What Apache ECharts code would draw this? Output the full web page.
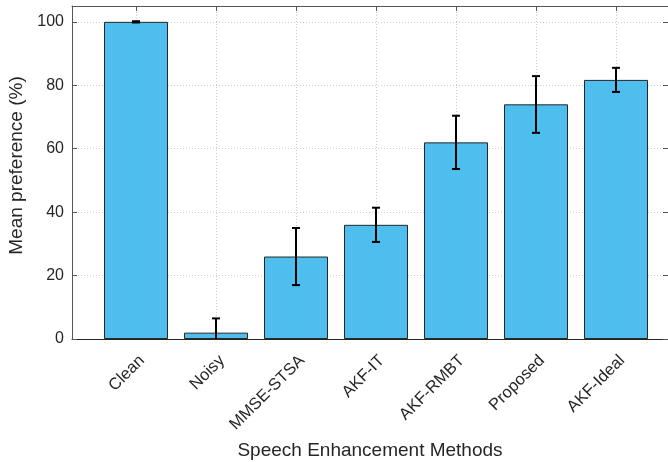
<!DOCTYPE html>
<html>
<head>
<meta charset="utf-8">
<script src="https://cdn.jsdelivr.net/npm/echarts@6/dist/echarts.min.js"></script>
<style>html,body{margin:0;padding:0;background:#fff}#c{width:668px;height:462px}</style>
</head>
<body>
<div id="c"></div>
<script>
const categories = ['Clean', 'Noisy', 'MMSE-STSA', 'AKF-IT', 'AKF-RMBT', 'Proposed', 'AKF-Ideal'];
const means = [100, 2, 26, 36, 62, 74, 81.7];
const errLow = [99.8, -2.5, 17, 30.6, 53.6, 65, 77.9];
const errHigh = [100.2, 6.5, 35, 41.4, 70.4, 82.9, 85.5];
const yTicks = [0, 20, 40, 60, 80, 100];

const positions = categories.map((c, i) => i + 1);
const font = 'Liberation Sans, Arial, Helvetica, sans-serif';
const textColor = '#262626';

const chart = echarts.init(document.getElementById('c'));
chart.setOption({
  animation: false,
  backgroundColor: '#fff',
  grid: { left: 72, right: 0, top: 6, bottom: 123, containLabel: false, outerBoundsMode: 'none' },
  xAxis: [{
    type: 'value', min: 0.2, max: 7.65, position: 'bottom',
    name: 'Speech Enhancement Methods', nameLocation: 'middle', nameGap: 102,
    nameTextStyle: { fontFamily: font, fontSize: 19, color: textColor },
    axisLine: { show: true, onZero: false, lineStyle: { color: '#262626', width: 1 } },
    axisTick: { show: true, inside: true, length: 5, customValues: positions, lineStyle: { color: '#262626' } },
    axisLabel: {
      customValues: positions, rotate: 45, margin: 13, verticalAlign: 'top',
      fontFamily: font, fontSize: 16.5, color: textColor,
      formatter: v => categories[Math.round(v) - 1] || ''
    },
    splitLine: { show: true, lineStyle: { color: '#cfcfcf', type: [1, 2], width: 1 } }
  }, {
    type: 'value', min: 0.2, max: 7.65, position: 'top',
    axisLine: { show: true, onZero: false, lineStyle: { color: '#555', width: 1 } },
    axisTick: { show: true, inside: true, length: 5, customValues: positions, lineStyle: { color: '#555' } },
    axisLabel: { show: false }, splitLine: { show: false }
  }],
  yAxis: [{
    type: 'value', min: 0, max: 105, position: 'left',
    name: 'Mean preference (%)', nameLocation: 'middle', nameGap: 46,
    nameTextStyle: { fontFamily: font, fontSize: 19, color: textColor, padding: [0, 0, 0, 14] },
    axisLine: { show: true, lineStyle: { color: '#555', width: 1 } },
    axisTick: { show: true, inside: true, length: 5, customValues: yTicks, lineStyle: { color: '#555' } },
    axisLabel: { customValues: yTicks, margin: 8, fontFamily: font, fontSize: 16, color: textColor },
    splitLine: { show: true, lineStyle: { color: '#cfcfcf', type: [1, 2], width: 1 } }
  }, {
    type: 'value', min: 0, max: 105, position: 'right',
    axisLine: { show: true, lineStyle: { color: '#555', width: 1 } },
    axisTick: { show: true, inside: true, length: 5, customValues: yTicks, lineStyle: { color: '#555' } },
    axisLabel: { show: false }, splitLine: { show: false }
  }],
  series: [{
    type: 'bar', xAxisIndex: 0, yAxisIndex: 0, barWidth: 64,
    data: positions.map((x, i) => [x, means[i]]),
    itemStyle: { color: '#4DBEEE', borderColor: '#262626', borderWidth: 1 }
  }, {
    type: 'custom', xAxisIndex: 0, yAxisIndex: 0, clip: true, z: 5,
    data: positions.map((x, i) => [x, errLow[i], errHigh[i]]),
    renderItem: function (params, api) {
      const x = api.value(0);
      const lo = api.coord([x, api.value(1)]);
      const hi = api.coord([x, api.value(2)]);
      const hw = 4;
      const style = { stroke: '#000', lineWidth: 2 };
      return {
        type: 'group', children: [
          { type: 'line', shape: { x1: lo[0], y1: lo[1], x2: hi[0], y2: hi[1] }, style },
          { type: 'line', shape: { x1: lo[0] - hw, y1: lo[1], x2: lo[0] + hw, y2: lo[1] }, style },
          { type: 'line', shape: { x1: hi[0] - hw, y1: hi[1], x2: hi[0] + hw, y2: hi[1] }, style }
        ]
      };
    }
  }]
});
</script>
</body>
</html>
